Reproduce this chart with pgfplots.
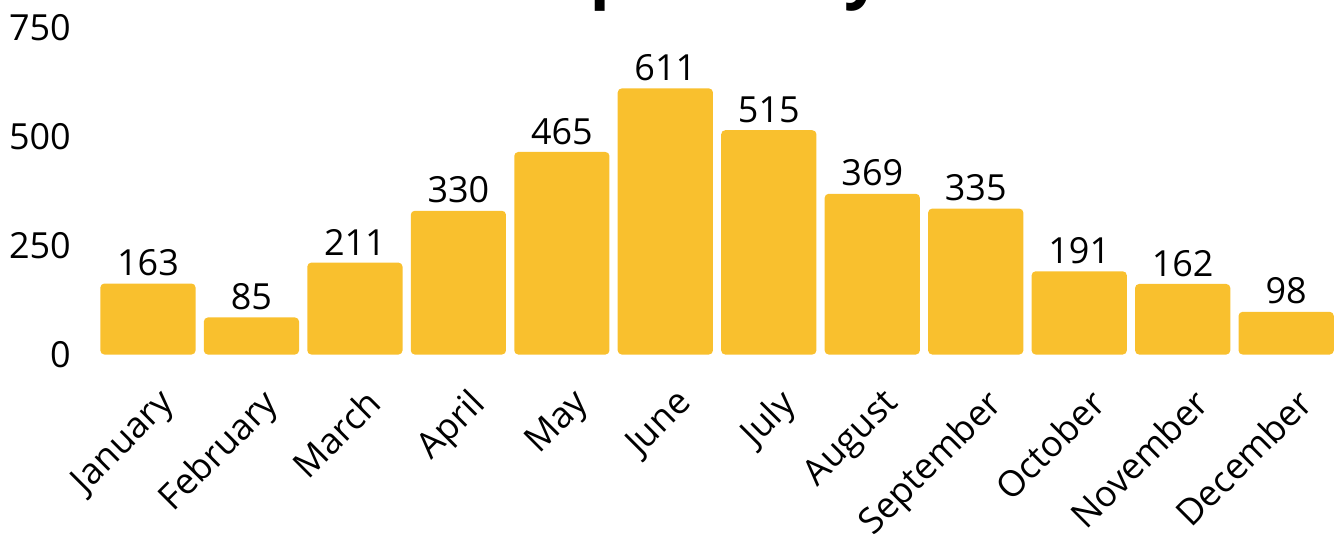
\documentclass[border=0pt]{standalone}
\usepackage{fontspec}
\setmainfont{Open Sans}
\usepackage{pgfplots}
\pgfplotsset{compat=1.18}
\definecolor{barcol}{HTML}{F9C02E}

\begin{document}
\begin{tikzpicture}
  \begin{axis}[
      scale only axis, width=1243pt, height=327pt,
      ybar, bar width=0.92,
      xmin=-0.5, xmax=11.5, ymin=0, ymax=750,
      xtick={0,...,11},
      xticklabels={January,February,March,April,May,June,July,August,September,October,November,December},
      ytick={0,250,500,750},
      axis line style={draw=none}, major tick length=0pt,
      tick label style={font=\fontsize{36}{40}\selectfont, /pgf/number format/assume math mode=true},
      xticklabel style={xshift=9pt, yshift=-27pt, rotate=45, anchor=north east},
      yticklabel style={xshift=-22pt},
      nodes near coords,
      every node near coord/.append style={font=\fontsize{36}{40}\selectfont, /pgf/number format/assume math mode=true, yshift=4pt},
      clip=false]
    \addplot[fill=barcol, draw=none, rounded corners=4pt] coordinates {
      (0,163) (1,85) (2,211) (3,330) (4,465) (5,611)
      (6,515) (7,369) (8,335) (9,191) (10,162) (11,98)};
    \node[anchor=base, font=\fontsize{66}{72}\selectfont\bfseries] at (axis cs:5.1,825) {Service Requests by Month};
    \coordinate (bl) at (axis cs:-1.43,-420);
    \coordinate (tr) at (axis cs:11.53,814);
  \end{axis}
  \pgfresetboundingbox
  \path[use as bounding box] (bl) rectangle (tr);
\end{tikzpicture}
\end{document}
